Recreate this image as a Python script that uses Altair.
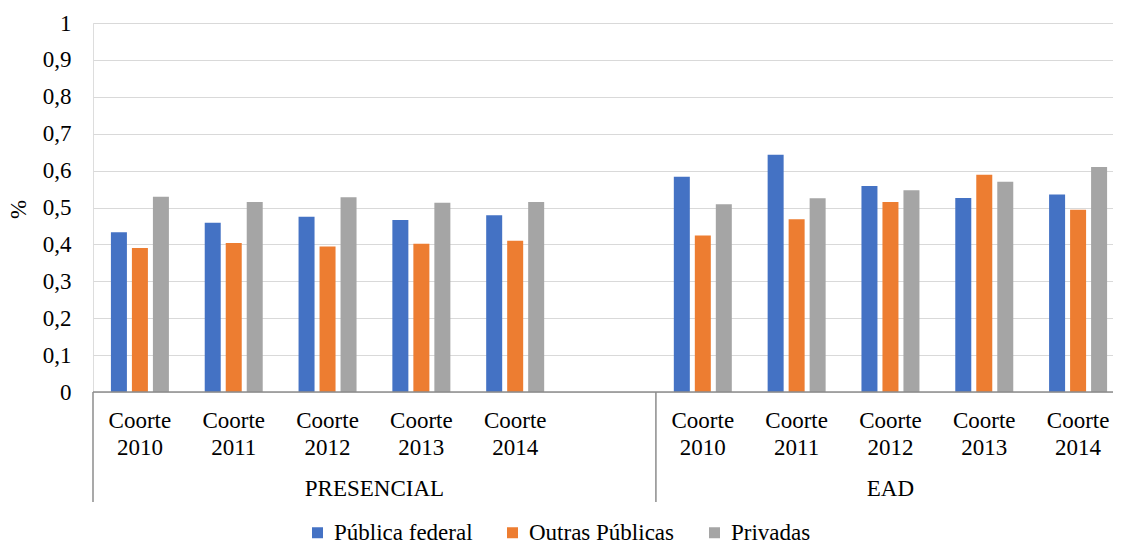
import altair as alt
import pandas as pd

# ---- data ----
modalidades = ["PRESENCIAL", "EAD"]
coortes = ["Coorte 2010", "Coorte 2011", "Coorte 2012", "Coorte 2013", "Coorte 2014"]
series = ["Pública federal", "Outras Públicas", "Privadas"]
cores = ["#4472C4", "#ED7D31", "#A5A5A5"]

presencial_federal = [0.433, 0.459, 0.475, 0.466, 0.479]
presencial_outras = [0.390, 0.404, 0.394, 0.402, 0.410]
presencial_privadas = [0.529, 0.515, 0.528, 0.513, 0.515]
ead_federal = [0.583, 0.643, 0.558, 0.526, 0.535]
ead_outras = [0.424, 0.468, 0.515, 0.589, 0.494]
ead_privadas = [0.509, 0.525, 0.547, 0.570, 0.610]

y_ticks = [0, 0.1, 0.2, 0.3, 0.4, 0.5, 0.6, 0.7, 0.8, 0.9, 1.0]

FONT = "Liberation Serif"
FS = 23
W, H = 1020, 369
XR = 1032  # band range (the reference is cut at the right edge)

# slots: 5 presencial cohorts, one empty slot, 5 EAD cohorts
slots = [f"PRESENCIAL|{c}" for c in coortes] + ["gap"] + [f"EAD|{c}" for c in coortes]

valores = {
    ("PRESENCIAL", "Pública federal"): presencial_federal,
    ("PRESENCIAL", "Outras Públicas"): presencial_outras,
    ("PRESENCIAL", "Privadas"): presencial_privadas,
    ("EAD", "Pública federal"): ead_federal,
    ("EAD", "Outras Públicas"): ead_outras,
    ("EAD", "Privadas"): ead_privadas,
}
rows = []
for m in modalidades:
    for s in series:
        for c, v in zip(coortes, valores[(m, s)]):
            rows.append({"slot": f"{m}|{c}", "serie": s, "valor": v})
df = pd.DataFrame(rows)

labels_df = pd.DataFrame(
    [{"slot": f"{m}|{c}", "txt": c.replace(" ", "\n")} for m in modalidades for c in coortes]
)

xscale = alt.Scale(domain=slots, range=[0, XR], paddingInner=0, paddingOuter=0)
yscale = alt.Scale(domain=[0, 1], nice=False)

bars = alt.Chart(df).mark_bar().encode(
    x=alt.X("slot:N", scale=xscale, axis=None),
    xOffset=alt.XOffset("serie:N", scale=alt.Scale(domain=series, paddingInner=0.238, paddingOuter=0.853)),
    y=alt.Y(
        "valor:Q",
        scale=yscale,
        axis=alt.Axis(
            values=y_ticks,
            labelExpr="replace(toString(round(datum.value*10)/10), '.', ',')",
            grid=True, gridColor="#d9d9d9", gridWidth=1,
            domain=False, ticks=False, tickSize=0, labelPadding=22,
            labelFont=FONT, labelFontSize=FS, labelColor="#000000",
            labelOverlap=False,
            title="%", titleFont=FONT, titleFontSize=FS, titleFontWeight="normal",
            titleColor="#000000", titleX=-75, titleY=186, titleAngle=-90,
            titleAlign="center", titleBaseline="middle",
        ),
    ),
    color=alt.Color(
        "serie:N",
        scale=alt.Scale(domain=series, range=cores),
        legend=alt.Legend(
            title=None, orient="none", direction="horizontal",
            legendX=213, legendY=498,
            symbolType="square", symbolSize=121, symbolStrokeWidth=0,
            labelFont=FONT, labelFontSize=FS, labelColor="#000000",
            labelOffset=5, columnPadding=28, labelLimit=400,
        ),
    ),
)

baseline = alt.Chart(pd.DataFrame({"v": [0]})).mark_rule(color="#8c8c8c", strokeWidth=1.5).encode(
    y=alt.value(H),
    x=alt.value(0), x2=alt.value(W),
)

sep = alt.Chart(pd.DataFrame({"slot": [slots[0], slots[6]]})).mark_rule(color="#8c8c8c", strokeWidth=1.5).encode(
    x=alt.X("slot:N", scale=xscale, bandPosition=0, axis=None),
    y=alt.value(H), y2=alt.value(479),
)

cohort_text = alt.Chart(labels_df).mark_text(
    font=FONT, fontSize=FS, color="#000000", lineBreak="\n", lineHeight=27,
    baseline="alphabetic", align="center",
).encode(
    x=alt.X("slot:N", scale=xscale, axis=None),
    y=alt.value(405),
    text="txt:N",
)

grp_p = alt.Chart(pd.DataFrame({"slot": [slots[2]], "txt": [modalidades[0]]})).mark_text(
    font=FONT, fontSize=FS, color="#000000", baseline="alphabetic", align="center",
).encode(
    x=alt.X("slot:N", scale=xscale, bandPosition=1, axis=None),
    y=alt.value(473),
    text="txt:N",
)

grp_e = alt.Chart(pd.DataFrame({"slot": [slots[8]], "txt": [modalidades[1]]})).mark_text(
    font=FONT, fontSize=FS, color="#000000", baseline="alphabetic", align="center",
).encode(
    x=alt.X("slot:N", scale=xscale, axis=None),
    y=alt.value(473),
    text="txt:N",
)

chart = alt.layer(bars, baseline, sep, cohort_text, grp_p, grp_e).properties(
    width=W, height=H,
    autosize=alt.AutoSizeParams(type="none"),
    padding={"left": 85, "top": 15, "right": 0, "bottom": 149},
).configure_view(stroke=None).configure(background="white")

chart.save("out.html", embed_options={"renderer": "svg", "actions": False})
